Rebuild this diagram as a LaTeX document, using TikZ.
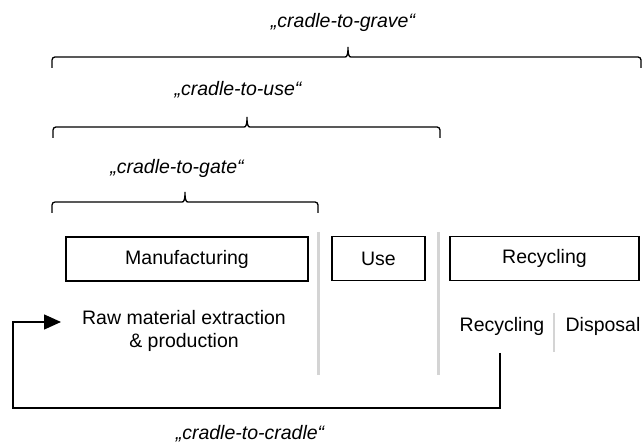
\documentclass[tikz,border=0pt]{standalone}
\usepackage{fontspec}
\setmainfont{Liberation Sans}
\usetikzlibrary{arrows.meta}
\definecolor{sepgray}{RGB}{212,212,212}
\tikzset{
  stage/.style={draw=black, line width=1.6pt, minimum height=44pt, inner sep=0pt,
    font=\fontsize{19.5}{23}\selectfont},
  plain/.style={inner sep=0pt, font=\fontsize{19.5}{23}\selectfont, align=center},
  scopelabel/.style={inner sep=0pt, font=\fontsize{19.5}{23}\selectfont\itshape},
  bracket/.style={draw=black, line width=1.3pt},
  divider/.style={draw=sepgray, line width=3pt},
  subdivider/.style={draw=sepgray, line width=2pt},
  loopline/.style={draw=black, line width=1.5pt},
}
% horizontal curly bracket: left x, right x, line y, tip x (y axis points down)
\newcommand{\hbracket}[4]{%
  \draw[bracket] (#1,#3+11) -- (#1,#3+3) arc[start angle=180,end angle=270,radius=3]
    -- (#4-3,#3) .. controls (#4-1,#3) and (#4,#3-2) .. (#4,#3-10)
    .. controls (#4,#3-2) and (#4+1,#3) .. (#4+3,#3)
    -- (#2-3,#3) arc[start angle=270,end angle=360,radius=3] -- (#2,#3+11);}
\begin{document}
\begin{tikzpicture}[x=1pt,y=-1pt]
\useasboundingbox (0,0) rectangle (643,443);

% scope brackets and their labels
\node[scopelabel] (grave) at (343,22) {„cradle-to-grave“};
\hbracket{52}{641}{57}{348}
\node[scopelabel] (tuse) at (238,90) {„cradle-to-use“};
\hbracket{53}{440}{127}{247}
\node[scopelabel] (gate) at (177,168) {„cradle-to-gate“};
\hbracket{52}{318}{202}{185}

% life-cycle stages
\node[stage, minimum width=242pt] (manu) at (187,259) {Manufacturing};
\node[stage, minimum width=93pt] (use) at (378.5,258.5) {Use};
\node[stage, minimum width=189pt] (recy) at (544.5,258.5) {Recycling};

% stage dividers
\draw[divider] (318,232) -- (318,375);
\draw[divider] (438,232) -- (438,375);

% details below the stages
\node[plain] (raw) at (184,331) {Raw material extraction\\\& production};
\node[plain] (subrec) at (502,326) {Recycling};
\node[plain] (disp) at (603,326) {Disposal};
\draw[subdivider] (554,313) -- (554,352);

% closed loop back to the start
\coordinate (fbstart) at (500,353);
\coordinate (fbcorner) at (13,408);
\coordinate (fbend) at (61,322);
\draw[loopline, -{Triangle[length=17pt,width=15pt]}] (fbstart) |- (fbcorner) |- (fbend);
\node[scopelabel] (cradle) at (250,434) {„cradle-to-cradle“};
\end{tikzpicture}
\end{document}
